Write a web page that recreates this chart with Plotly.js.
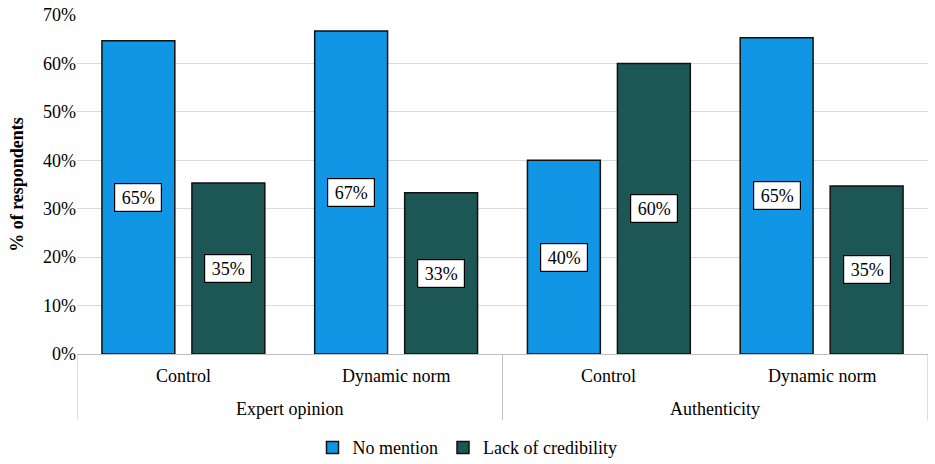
<!DOCTYPE html>
<html>
<head>
<meta charset="utf-8">
<script src="https://cdn.plot.ly/plotly-3.0.1.min.js"></script>
<style>html,body{margin:0;padding:0;background:#fff;}#chart{width:935px;height:464px;}</style>
</head>
<body>
<div id="chart"></div>
<script>
const groups = ["Expert opinion", "Expert opinion", "Authenticity", "Authenticity"];
const conditions = ["Control", "Dynamic norm", "Control", "Dynamic norm"];
const groupLabels = ["Expert opinion", "Authenticity"];
const noMention = [0.647, 0.667, 0.40, 0.653];
const lackCredibility = [0.353, 0.333, 0.60, 0.347];
const seriesNames = ["No mention", "Lack of credibility"];
const seriesColors = ["#1196e5", "#1c5756"];

const FONT = "Liberation Serif";
const BARGAP = 0.154, GROUPGAP = 0.19;
const slot = (1 - BARGAP) / 2;

const series = [noMention, lackCredibility];
const traces = series.map((vals, i) => ({
  type: "bar",
  name: seriesNames[i],
  x: [groups, conditions],
  y: vals,
  marker: {color: seriesColors[i], line: {color: "#111", width: 1.5}},
  hoverinfo: "skip"
}));

const annotations = [];
series.forEach((vals, s) => {
  vals.forEach((v, k) => {
    annotations.push({
      x: k + (s === 0 ? -slot / 2 : slot / 2),
      y: v / 2,
      xref: "x", yref: "y",
      text: Math.round(v * 100) + "%",
      showarrow: false,
      font: {family: FONT, size: 18, color: "#000"},
      bgcolor: "#fff",
      bordercolor: "#000",
      borderwidth: 1.2,
      borderpad: 3,
      width: 40, height: 21
    });
  });
});
conditions.forEach((c, k) => {
  annotations.push({x: k, y: -0.065, xref: "x", yref: "paper", text: c, showarrow: false,
    font: {family: FONT, size: 18, color: "#000"}, yanchor: "middle"});
});
groupLabels.forEach((g, j) => {
  annotations.push({x: 2 * j + 0.5, y: -0.162, xref: "x", yref: "paper", text: g, showarrow: false,
    font: {family: FONT, size: 18, color: "#000"}, yanchor: "middle"});
});
const shapes = [-0.5, 1.5, 3.5].map(xv => ({
  type: "line", xref: "x", yref: "paper", x0: xv, x1: xv, y0: 0, y1: -0.195,
  line: {color: "#bfbfbf", width: 1}
}));

const layout = {
  width: 935, height: 464,
  margin: {l: 77, r: 7, t: 15, b: 110},
  paper_bgcolor: "#fff", plot_bgcolor: "#fff",
  barmode: "group",
  bargap: BARGAP,
  bargroupgap: GROUPGAP,
  font: {family: FONT, size: 18, color: "#000"},
  showlegend: true,
  legend: {orientation: "h", x: 0.5, xanchor: "center", xref: "container", yref: "container", y: 0.035, yanchor: "middle",
           font: {family: FONT, size: 18, color: "#000"}, traceorder: "normal", itemwidth: 30},
  xaxis: {
    type: "multicategory",
    showline: true, linecolor: "#bfbfbf", linewidth: 1,
    showdividers: false, showticklabels: false,
    showgrid: false, ticks: "", range: [-0.5, 3.5]
  },
  yaxis: {
    range: [0, 0.7], dtick: 0.1, tickformat: ".0%",
    showgrid: true, gridcolor: "#d9d9d9", gridwidth: 1,
    zeroline: false, showline: false,
    tickfont: {family: FONT, size: 18, color: "#000"},
    ticks: "",
    title: {text: "<b>% of respondents</b>", font: {family: FONT, size: 18, color: "#000"}, standoff: 14}
  },
  annotations: annotations,
  shapes: shapes
};

Plotly.newPlot("chart", traces, layout, {staticPlot: true, displayModeBar: false});
</script>
</body>
</html>
